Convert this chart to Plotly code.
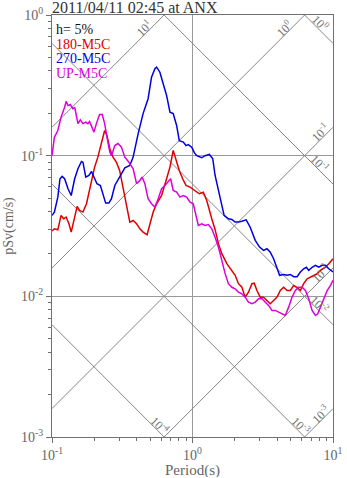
import math
import plotly.graph_objects as go

# ---------------- data ----------------
periods_up = [0.100, 0.104, 0.110, 0.116, 0.123, 0.126, 0.130, 0.135, 0.141, 0.145,
              0.149, 0.153, 0.159, 0.166, 0.174, 0.180, 0.185, 0.194, 0.199, 0.207,
              0.218, 0.228, 0.237, 0.250, 0.258, 0.265, 0.280, 0.295, 0.312, 0.330,
              0.348, 0.378, 0.400, 0.422, 0.438, 0.458, 0.483, 0.511, 0.540, 0.570,
              0.603, 0.636, 0.672, 0.699, 0.729, 0.771, 0.814, 0.860, 0.909, 0.960,
              1.013, 1.054, 1.100, 1.163, 1.228, 1.297, 1.371, 1.448, 1.529, 1.617,
              1.707, 1.802, 1.905, 2.012, 2.124, 2.246, 2.371, 2.503, 2.648, 2.796,
              2.951, 3.121, 3.296, 3.479, 3.679, 3.884, 4.102, 4.336, 4.578, 4.834,
              5.112, 5.397, 5.698, 6.026, 6.363, 6.717, 7.101, 7.499, 7.789, 8.143,
              8.599, 9.092, 9.597, 10.0]
psv_up = [0.100, 0.135, 0.151, 0.188, 0.221, 0.243, 0.227, 0.231, 0.215, 0.221,
          0.193, 0.169, 0.180, 0.169, 0.173, 0.169, 0.175, 0.159, 0.147, 0.169,
          0.196, 0.196, 0.169, 0.125, 0.106, 0.100, 0.118, 0.122, 0.115, 0.0976,
          0.0914, 0.0807, 0.0632, 0.0666, 0.0704, 0.0632, 0.0494, 0.0455, 0.0431, 0.0494,
          0.0582, 0.0614, 0.0648, 0.0685, 0.0566, 0.0550, 0.0507, 0.0521, 0.0507, 0.0467,
          0.0455, 0.0376, 0.0319, 0.0328, 0.0319, 0.0324, 0.0302, 0.0263, 0.0224, 0.0180,
          0.0145, 0.0123, 0.0116, 0.0113, 0.0107, 0.0104, 0.00987, 0.00910, 0.00886, 0.00910,
          0.00961, 0.00961, 0.00910, 0.00862, 0.00794, 0.00794, 0.00772, 0.00752, 0.00731, 0.00838,
          0.00987, 0.0110, 0.0116, 0.0116, 0.0110, 0.00961, 0.00794, 0.00731, 0.00752, 0.00838,
          0.00961, 0.0110, 0.01195, 0.0130]

periods_270 = [0.100, 0.104, 0.110, 0.114, 0.118, 0.123, 0.130, 0.137, 0.145, 0.153,
               0.162, 0.166, 0.174, 0.183, 0.191, 0.199, 0.209, 0.221, 0.231, 0.241,
               0.254, 0.265, 0.280, 0.303, 0.330, 0.358, 0.378, 0.410, 0.445, 0.483,
               0.511, 0.540, 0.555, 0.586, 0.619, 0.654, 0.691, 0.729, 0.771, 0.805,
               0.860, 0.899, 0.933, 0.987, 1.030, 1.072, 1.163, 1.228, 1.318, 1.394,
               1.448, 1.529, 1.617, 1.679, 1.802, 1.905, 2.012, 2.124, 2.246, 2.410,
               2.575, 2.796, 3.000, 3.204, 3.388, 3.578, 3.777, 3.994, 4.169, 4.453,
               4.709, 4.971, 5.248, 5.550, 5.860, 6.185, 6.466, 6.717, 7.101, 7.499,
               7.917, 8.373, 8.840, 9.333, 10.0]
psv_270 = [0.0376, 0.0397, 0.0507, 0.0685, 0.0712, 0.0685, 0.0582, 0.0521, 0.0685, 0.0807,
           0.0910, 0.0899, 0.0704, 0.0723, 0.0772, 0.0704, 0.0632, 0.0614, 0.0521, 0.0460,
           0.0460, 0.0494, 0.0614, 0.0704, 0.0820, 0.0852, 0.0976, 0.143, 0.199, 0.254,
           0.361, 0.415, 0.426, 0.392, 0.324, 0.268, 0.204, 0.199, 0.164, 0.128,
           0.125, 0.118, 0.120, 0.115, 0.105, 0.100, 0.0966, 0.100, 0.102, 0.0951,
           0.0723, 0.0566, 0.0431, 0.0376, 0.0356, 0.0352, 0.0337, 0.0337, 0.0342, 0.0350,
           0.0310, 0.0250, 0.0224, 0.0212, 0.0218, 0.0206, 0.0185, 0.0161, 0.0141, 0.0143,
           0.0141, 0.0143, 0.0138, 0.0138, 0.0149, 0.0157, 0.0161, 0.0153, 0.0161, 0.0166,
           0.0161, 0.0166, 0.0166, 0.0157, 0.0149]

periods_180 = [0.100, 0.104, 0.110, 0.116, 0.121, 0.126, 0.132, 0.137, 0.145, 0.151,
               0.157, 0.166, 0.176, 0.185, 0.201, 0.212, 0.225, 0.237, 0.246, 0.258,
               0.272, 0.287, 0.303, 0.320, 0.339, 0.358, 0.378, 0.400, 0.422, 0.445,
               0.475, 0.497, 0.525, 0.555, 0.603, 0.654, 0.691, 0.729, 0.762, 0.805,
               0.851, 0.899, 0.960, 1.042, 1.118, 1.194, 1.263, 1.371, 1.448, 1.529,
               1.617, 1.755, 1.905, 2.012, 2.124, 2.246, 2.371, 2.503, 2.648, 2.750,
               2.874, 3.034, 3.204, 3.388, 3.578, 3.777, 3.994, 4.217, 4.453, 4.709,
               4.971, 5.248, 5.550, 5.860, 6.185, 6.543, 6.907, 7.293, 7.711, 8.143,
               8.840, 9.333, 10.0]
psv_180 = [0.0291, 0.0302, 0.0297, 0.0376, 0.0356, 0.0366, 0.0328, 0.0286, 0.0366, 0.0436,
           0.0408, 0.0397, 0.0455, 0.0566, 0.0829, 0.0976, 0.1215, 0.151, 0.139, 0.112,
           0.0976, 0.0899, 0.0785, 0.0597, 0.0431, 0.0337, 0.0346, 0.0328, 0.0302, 0.0286,
           0.0274, 0.0328, 0.0397, 0.0455, 0.0521, 0.0685, 0.0829, 0.109, 0.0924, 0.0785,
           0.0685, 0.0614, 0.0597, 0.0566, 0.0536, 0.0550, 0.0480, 0.0356, 0.0299, 0.0237,
           0.0201, 0.0171, 0.0153, 0.0141, 0.0123, 0.0116, 0.00987, 0.0107, 0.0123, 0.0124,
           0.0110, 0.00987, 0.00987, 0.00935, 0.00886, 0.00935, 0.00987, 0.0110, 0.0116, 0.0110,
           0.0110, 0.01195, 0.0116, 0.0110, 0.0123, 0.01334, 0.0137, 0.0141, 0.01447, 0.0153,
           0.0161, 0.01705, 0.0185]

series_names = ["180-M5C", "270-M5C", "UP-M5C"]
series_colors = ["#dd0000", "#0000dd", "#dd00dd"]

# tripartite reference lines
disp_levels = [1e-4, 1e-3, 1e-2, 1e-1, 1.0]      # pseudo displacement (cm)
acc_levels = [1e-3, 1e-2, 1e-1, 1.0, 10.0]       # pseudo acceleration (cm/s^2)
level_labels = {1e-4: "10<sup>-4</sup>", 1e-3: "10<sup>-3</sup>", 1e-2: "10<sup>-2</sup>",
                1e-1: "10<sup>-1</sup>", 1.0: "10<sup>0</sup>", 10.0: "10<sup>1</sup>"}

x_tickvals = [0.1, 1, 10]
x_ticktext = ["10<sup>-1</sup>", "10<sup>0</sup>", "10<sup>1</sup>"]
y_tickvals = [0.001, 0.01, 0.1, 1]
y_ticktext = ["10<sup>-3</sup>", "10<sup>-2</sup>", "10<sup>-1</sup>", "10<sup>0</sup>"]

title_text = "2011/04/11 02:45 at ANX"
damping_text = "h= 5%"
x_title = "Period(s)"
y_title = "pSv(cm/s)"

assert len(periods_up) == len(psv_up)
assert len(periods_270) == len(psv_270)
assert len(periods_180) == len(psv_180)

TMIN, TMAX = 0.1, 10.0
VMIN, VMAX = 0.001, 1.0
TWO_PI = 2 * math.pi

SERIF = "Liberation Serif, Times New Roman, serif"
GRID = "#9a9a9a"
DIAG = "#858585"
AXIS = "#707070"
TXT = "#666666"

fig = go.Figure()

# diagonal lines: displacement (descending) and acceleration (ascending)
ends = [TMIN, TMAX]
for d in disp_levels:
    fig.add_trace(go.Scatter(x=ends, y=[TWO_PI * d / t for t in ends], mode="lines",
                             line=dict(color=DIAG, width=1), hoverinfo="skip", showlegend=False))
for a in acc_levels:
    fig.add_trace(go.Scatter(x=ends, y=[a * t / TWO_PI for t in ends], mode="lines",
                             line=dict(color=DIAG, width=1), hoverinfo="skip", showlegend=False))

# spectra
for per, vals, name, col in [(periods_180, psv_180, series_names[0], series_colors[0]),
                             (periods_270, psv_270, series_names[1], series_colors[1]),
                             (periods_up, psv_up, series_names[2], series_colors[2])]:
    fig.add_trace(go.Scatter(x=per, y=vals, mode="lines", name=name,
                             line=dict(color=col, width=1.5), showlegend=False))

annotations = []
lab_font = dict(family=SERIF, size=12, color="#707070")
SH = 3.6
for d in disp_levels:
    v_end = TWO_PI * d / TMAX
    if v_end >= VMIN:
        t_exit, v_exit, back = TMAX, v_end, 0.12
    else:
        t_exit, v_exit, back = TWO_PI * d / VMIN, VMIN, 0.055
    lt = math.log10(t_exit) - back
    lv = math.log10(v_exit) + back
    annotations.append(dict(x=lt, y=lv, xref="x", yref="y", text=level_labels[d],
                            showarrow=False, textangle=45, font=lab_font,
                            xshift=SH, yshift=SH))
for a in acc_levels:
    v_end = a * TMAX / TWO_PI
    if v_end <= VMAX:
        t_exit, v_exit, back = TMAX, v_end, 0.065
    else:
        t_exit, v_exit, back = TWO_PI * VMAX / a, VMAX, 0.12
    lt = math.log10(t_exit) - back
    lv = math.log10(v_exit) - back
    annotations.append(dict(x=lt, y=lv, xref="x", yref="y", text=level_labels[a],
                            showarrow=False, textangle=-45, font=lab_font,
                            xshift=-SH, yshift=SH))

# title
annotations.append(dict(x=0, y=1, xref="paper", yref="paper", xanchor="left", yanchor="middle",
                        xshift=-1, yshift=8, text=title_text, showarrow=False,
                        height=12, borderpad=0, valign="middle",
                        font=dict(family=SERIF, size=16, color="#333333")))
# x axis title
annotations.append(dict(x=0.5, y=0, xref="paper", yref="paper", xanchor="center",
                        yanchor="middle", yshift=-33, text=x_title, showarrow=False,
                        height=13, borderpad=0, valign="middle",
                        font=dict(family=SERIF, size=15, color=TXT)))
# legend-like texts
leg_items = [(damping_text, "#111111")] + list(zip(series_names, series_colors))
for i, (txt, col) in enumerate(leg_items):
    annotations.append(dict(x=0, y=1, xref="paper", yref="paper", xanchor="left",
                            yanchor="middle", xshift=3, yshift=-14 - 14.7 * i,
                            text=txt, showarrow=False, height=14, borderpad=0,
                            valign="middle",
                            font=dict(family=SERIF, size=14, color=col)))

minor_x = [m * 10 ** e for e in (-1, 0) for m in range(2, 10)]
minor_y = [m * 10 ** e for e in (-3, -2, -1) for m in range(2, 10)]

fig.update_layout(
    width=347, height=478,
    margin=dict(l=52, r=14, t=15, b=41),
    paper_bgcolor="white", plot_bgcolor="white",
    font=dict(family=SERIF, size=13, color=TXT),
    annotations=annotations,
    xaxis=dict(type="log", range=[-1, 1], tickmode="array", tickvals=x_tickvals,
               ticktext=x_ticktext, ticks="outside", ticklen=5, tickcolor=AXIS,
               showline=True, linecolor=AXIS, linewidth=1, mirror=True,
               showgrid=True, gridcolor=GRID, gridwidth=1, zeroline=False,
               automargin=False,
               tickfont=dict(family=SERIF, size=14, color=TXT),
               minor=dict(tickvals=minor_x, ticks="outside", ticklen=3, tickcolor=AXIS,
                          showgrid=False)),
    yaxis=dict(type="log", range=[-3, 0], tickmode="array", tickvals=y_tickvals,
               ticktext=y_ticktext, ticks="outside", ticklen=5, tickcolor=AXIS,
               showline=True, linecolor=AXIS, linewidth=1, mirror=True,
               showgrid=True, gridcolor=GRID, gridwidth=1, zeroline=False,
               automargin=False,
               tickfont=dict(family=SERIF, size=14, color=TXT),
               title=dict(text=y_title, font=dict(family=SERIF, size=14, color=TXT),
                          standoff=4),
               minor=dict(tickvals=minor_y, ticks="outside", ticklen=3, tickcolor=AXIS,
                          showgrid=False)),
)

fig.write_html("out.html")
